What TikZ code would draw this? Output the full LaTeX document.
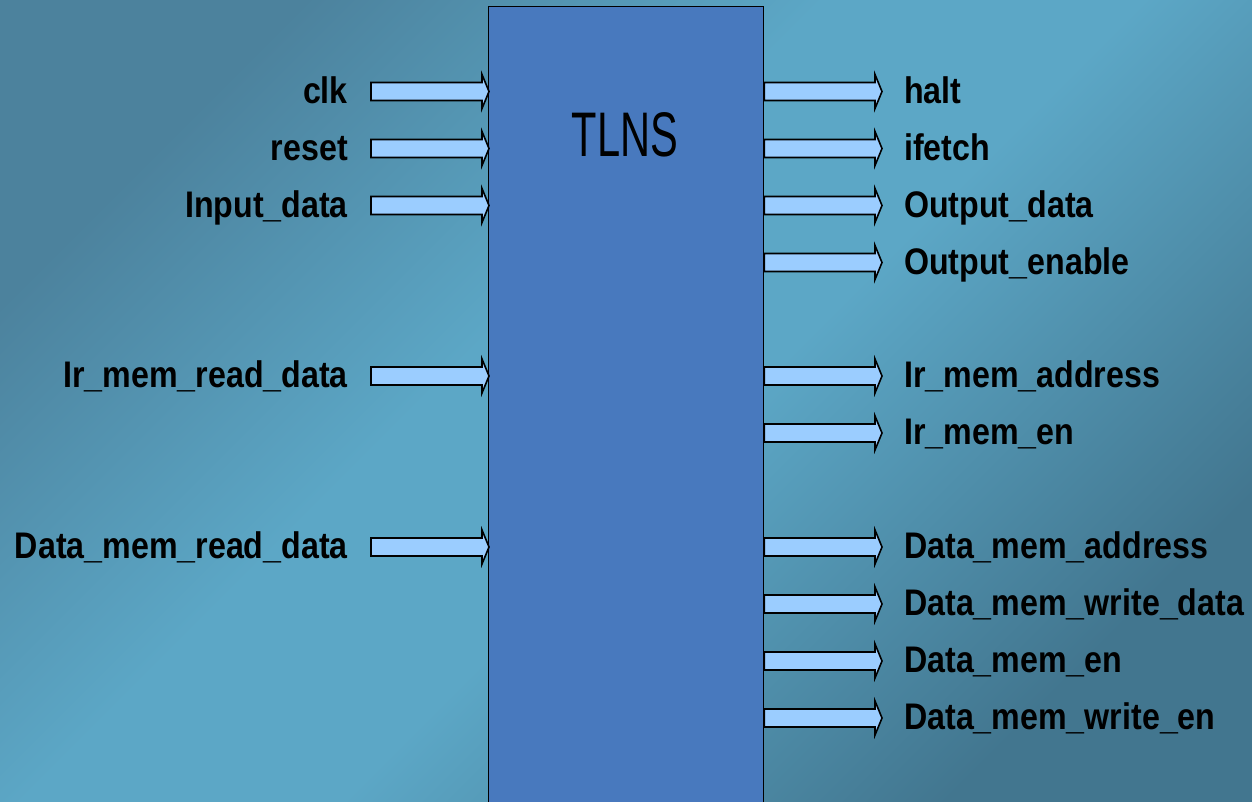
\documentclass[tikz,border=0pt]{standalone}
\usepackage{fontspec}
\newfontfamily\labfont[FakeStretch=0.87]{Liberation Sans}
\newfontfamily\titfont[FakeStretch=0.66]{Liberation Sans}
\usetikzlibrary{calc}
\definecolor{bgdarkA}{RGB}{66,118,143}
\definecolor{bgdarkB}{RGB}{76,130,157}
\definecolor{bglight}{RGB}{92,167,198}
\definecolor{boxblue}{RGB}{72,121,190}
\definecolor{arrowfill}{RGB}{155,205,255}
\pgfdeclareverticalshading{bgshade}{100bp}{color(0bp)=(bgdarkA); color(25bp)=(bgdarkA); color(46bp)=(bglight); color(57bp)=(bglight); color(75bp)=(bgdarkB); color(100bp)=(bgdarkB)}
\tikzset{
  lab/.style={inner sep=0pt, font=\labfont\bfseries\fontsize{37}{40}\selectfont, text=black},
  barrow/.style={draw=black, line width=1.6pt, fill=arrowfill, line join=miter,
    to path={let \p1=(\tikztostart), \p2=(\tikztotarget) in
      (\x1,\y1+9pt) -- (\x2-7pt,\y1+9pt) -- (\x2-7pt,\y1+17pt) -- (\x2,\y1)
      -- (\x2-7pt,\y1-17pt) -- (\x2-7pt,\y1-9pt) -- (\x1,\y1-9pt) -- cycle}},
  mainbox/.style={draw=black, line width=1.4pt, fill=boxblue, inner sep=0pt}
}
\begin{document}
\begin{tikzpicture}[x=1pt, y=-1pt]
\useasboundingbox (0,0) rectangle (1252,801);
\clip (0,0) rectangle (1252,801);
\shade[shading=bgshade, shading angle=45] (0,0) rectangle (1252,801);
\node[mainbox, anchor=north west, minimum width=275pt, minimum height=820pt] (box) at (488,6) {};
\node[inner sep=0pt, font=\titfont\fontsize{63}{66}\selectfont] (title) at (625,135) {TLNS};
\foreach \y/\t [count=\i] in {91.5/clk, 148.5/reset, 205.5/Input\_data, 376/Ir\_mem\_read\_data, 547/Data\_mem\_read\_data} {
  \node[lab, anchor=base east] (in\i) at (348,\y+11.5) {\t};
  \coordinate (ins\i) at (371,\y);
  \draw[barrow] (ins\i) to ($(box.west |- ins\i)+(1,0)$);
}
\foreach \y/\t [count=\i] in {91.5/halt, 148.5/ifetch, 205.5/Output\_data, 262.5/Output\_enable, 376/Ir\_mem\_address, 433/Ir\_mem\_en, 547/Data\_mem\_address, 604/Data\_mem\_write\_data, 661/Data\_mem\_en, 718/Data\_mem\_write\_en} {
  \node[lab, anchor=base west] (out\i) at (904,\y+11.5) {\t};
  \coordinate (oute\i) at (882,\y);
  \draw[barrow] (box.east |- oute\i) to (oute\i);
}
\end{tikzpicture}
\end{document}
